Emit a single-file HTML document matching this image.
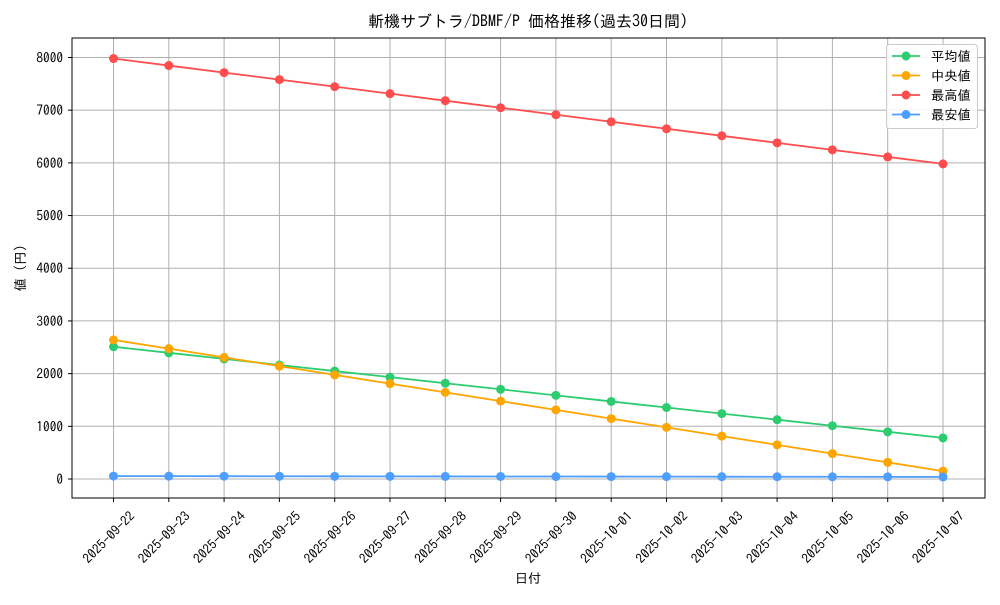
<!DOCTYPE html>
<html><head><meta charset="utf-8"><style>
body{margin:0;background:#fff}
text{font-family:"IPAGothic","Noto Sans CJK JP",sans-serif;font-size:13.3px;fill:#000}
</style></head><body>
<svg id="s" width="1000" height="600" xmlns="http://www.w3.org/2000/svg">
<text x="528" y="27" text-anchor="middle" style="font-size:16px">斬機サブトラ/DBMF/P 価格推移(過去30日間)</text>
<text x="528" y="583" text-anchor="middle">日付</text>
<text transform="translate(25,268) rotate(-90)" text-anchor="middle">値 (円)</text>
</svg>
<script>
const s=document.getElementById('s'),NS='http://www.w3.org/2000/svg';
function el(t,a,txt){const e=document.createElementNS(NS,t);for(const k in a)e.setAttribute(k,a[k]);if(txt!=null)e.textContent=txt;s.appendChild(e);return e;}
const L=72,T=38,R=985,B=498;
const X=i=>113.5+i*55.3, Y=v=>479-v*0.05269;
for(let v=0;v<=8000;v+=1000){el('line',{x1:L,x2:R,y1:Y(v),y2:Y(v),stroke:'#b0b0b0','stroke-width':1});
el('line',{x1:L-4,x2:L,y1:Y(v),y2:Y(v),stroke:'#000'});el('text',{x:L-9,y:Y(v)+5,'text-anchor':'end'},v);}
const dates=['2025-09-22','2025-09-23','2025-09-24','2025-09-25','2025-09-26','2025-09-27','2025-09-28','2025-09-29','2025-09-30','2025-10-01','2025-10-02','2025-10-03','2025-10-04','2025-10-05','2025-10-06','2025-10-07'];
dates.forEach((d,i)=>{el('line',{x1:X(i),x2:X(i),y1:T,y2:B,stroke:'#b0b0b0'});el('line',{x1:X(i),x2:X(i),y1:B,y2:B+4,stroke:'#000'});
el('text',{transform:`translate(${X(i)+15},${B+12}) rotate(-45)`,'text-anchor':'end',y:'10'},d);});
el('rect',{x:L,y:T,width:R-L,height:B-T,fill:'none',stroke:'#000','stroke-width':1});
const ser=[['#2ecc71',2510,780],['#ffa500',2640,150],['#ff4d4d',7980,5980],['#4d9eff',55,40]];
ser.forEach(([c,a,b])=>{const pts=dates.map((_,i)=>[X(i),Y(a+(b-a)*i/15)]);
el('polyline',{points:pts.map(p=>p.join(',')).join(' '),fill:'none',stroke:c,'stroke-width':1.8});
pts.forEach(p=>el('circle',{cx:p[0],cy:p[1],r:4.5,fill:c}));});
el('rect',{x:886.5,y:44.5,width:91,height:84,rx:3,fill:'#fff','fill-opacity':0.85,stroke:'#ccc'});
const names=['平均値',' 中央値','最高値','最安値'];
ser.forEach(([c],i)=>{const y=56+i*19.5;el('line',{x1:892,x2:920,y1:y,y2:y,stroke:c,'stroke-width':1.8});el('circle',{cx:906,cy:y,r:4.5,fill:c});
el('text',{x:931,y:y+5,'xml:space':'preserve'},names[i]);});
</script>
</body></html>
